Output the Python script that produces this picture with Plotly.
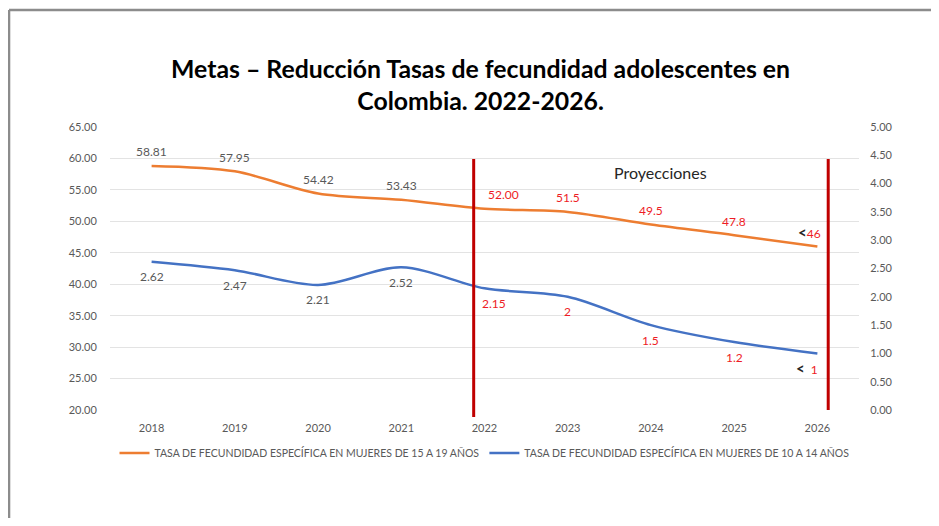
import plotly.graph_objects as go

years = ["2018", "2019", "2020", "2021", "2022", "2023", "2024", "2025", "2026"]
tasa_15_19 = [58.81, 57.95, 54.42, 53.43, 52.00, 51.5, 49.5, 47.8, 46]
tasa_10_14 = [2.62, 2.47, 2.21, 2.52, 2.15, 2, 1.5, 1.2, 1]
labels_15_19 = ["58.81", "57.95", "54.42", "53.43", "52.00", "51.5", "49.5", "47.8", "46"]
labels_10_14 = ["2.62", "2.47", "2.21", "2.52", "2.15", "2", "1.5", "1.2", "1"]
projected = [False, False, False, False, True, True, True, True, True]
target_marker = [False] * 8 + [True]
divider_years = ["2022", "2026"]

name_15_19 = "TASA DE FECUNDIDAD ESPECÍFICA EN MUJERES DE 15 A 19 AÑOS"
name_10_14 = "TASA DE FECUNDIDAD ESPECÍFICA EN MUJERES DE 10 A 14 AÑOS"
title = "Metas – Reducción Tasas de fecundidad adolescentes en<br>Colombia. 2022-2026."

FONT = "Lato"
GRAY = "#595959"
RED_TXT = "#EE1C25"
ORANGE = "#ED7D31"
BLUE = "#4472C4"

fig = go.Figure()
fig.add_trace(go.Scatter(x=years, y=tasa_15_19, name=name_15_19, mode="lines",
                         line=dict(color=ORANGE, width=2.5, shape="spline", smoothing=0.9),
                         yaxis="y"))
fig.add_trace(go.Scatter(x=years, y=tasa_10_14, name=name_10_14, mode="lines",
                         line=dict(color=BLUE, width=2.5, shape="spline", smoothing=0.9),
                         yaxis="y2"))

# label x shifts (px) for readability as in the original
xs_top = [0, 0, 0, 0, 19, 0, 0, 0, -8]
xs_bot = [0, 0, 0, 0, 9, 0, 0, 0, -10]

LT = '<span style="color:#262626;font-size:15px;font-weight:bold">&lt;</span>'

annots = []
for i, yr in enumerate(years):
    col = RED_TXT if projected[i] else GRAY
    t1 = labels_15_19[i]
    t2 = labels_10_14[i]
    if target_marker[i]:
        t1 = LT + t1
        t2 = LT + "  " + t2
    annots.append(dict(x=i, y=tasa_15_19[i], xref="x", yref="y", text=t1, showarrow=False,
                       yshift=14, xshift=xs_top[i], font=dict(family=FONT, size=12, color=col)))
    annots.append(dict(x=i, y=tasa_10_14[i], xref="x", yref="y2", text=t2, showarrow=False,
                       yshift=-15, xshift=xs_bot[i], font=dict(family=FONT, size=12, color=col)))

annots.append(dict(x=6.12, y=0.879, xref="x", yref="paper", text="Proyecciones", showarrow=False,
                   font=dict(family=FONT, size=16, color="#262626")))

shapes = []
offsets = {"2022": (-0.13, -0.025), "2026": (0.13, 0.0)}
for d in divider_years:
    idx = years.index(d)
    dx, yb = offsets[d]
    shapes.append(dict(type="line", xref="x", yref="paper", x0=idx + dx, x1=idx + dx,
                       y0=yb, y1=0.887, line=dict(color="#C00000", width=3)))
# outer frame (top and left edges)
shapes.append(dict(type="line", xref="paper", yref="paper", x0=-0.1348, x1=1.12, y0=1.413, y1=1.413,
                   line=dict(color="#8C8C8C", width=2.5)))
shapes.append(dict(type="line", xref="paper", yref="paper", x0=-0.1348, x1=-0.1348, y0=-0.5, y1=1.413,
                   line=dict(color="#8C8C8C", width=2.5)))

fig.update_layout(
    width=923, height=510,
    margin=dict(l=102, r=72, t=119, b=108),
    paper_bgcolor="white", plot_bgcolor="white",
    title=dict(text=title, x=0.512, xanchor="center", y=0.863, yanchor="middle",
               font=dict(family=FONT, size=24.8, color="#000000", weight="bold")),
    showlegend=True,
    legend=dict(orientation="h", x=0.5, xanchor="center",
                y=-0.152, yanchor="middle",
                font=dict(family=FONT, size=10.5, color=GRAY), itemwidth=30,
                tracegroupgap=0),
    xaxis=dict(type="category", range=[-0.5, 8.5], showgrid=False, showline=False,
               ticks="outside", ticklen=8, tickcolor="rgba(0,0,0,0)",
               tickfont=dict(family=FONT, size=11, color=GRAY)),
    yaxis=dict(range=[20, 65], dtick=5, tickformat=".2f", showgrid=True, gridcolor="#E3E3E3",
               gridwidth=1, zeroline=False, showline=False, ticks="outside", ticklen=10,
               tickcolor="rgba(0,0,0,0)", tickfont=dict(family=FONT, size=11, color=GRAY)),
    yaxis2=dict(range=[0, 5], dtick=0.5, tickformat=".2f", overlaying="y", side="right",
                showgrid=False, zeroline=False, showline=False, ticks="outside", ticklen=8,
                tickcolor="rgba(0,0,0,0)", tickfont=dict(family=FONT, size=11, color=GRAY)),
    annotations=annots,
    shapes=shapes,
)

fig.write_html("out.html")
